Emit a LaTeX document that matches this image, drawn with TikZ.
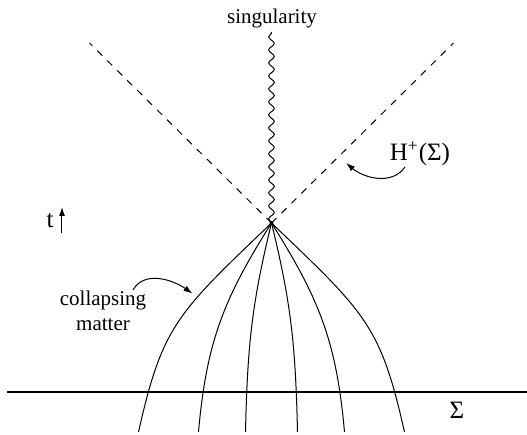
\documentclass[tikz,border=0pt]{standalone}
\usepackage{fontspec}
\setmainfont{Liberation Serif}
\usetikzlibrary{arrows.meta,decorations.pathmorphing}
\begin{document}
\begin{tikzpicture}[
  x=0.5pt, y=0.5pt,
  lbl/.style={font=\fontsize{10.5}{12.5}\selectfont, inner sep=0pt, align=center},
  biglbl/.style={font=\fontsize{12.5}{15}\selectfont, inner sep=0pt},
  worldline/.style={line width=0.5pt},
  horizon/.style={line width=0.5pt, dash pattern=on 3.5pt off 3.5pt},
  wavy/.style={line width=0.5pt, decorate, decoration={snake, amplitude=1.4pt, segment length=6.5pt}},
  pointer/.style={-{Latex[length=4.5pt,width=3pt]}, line width=0.5pt},
  slice/.style={line width=0.8pt}
]
\useasboundingbox (0,0) rectangle (527,435);
\coordinate (sing) at (271.5,212);
\coordinate (singtop) at (271.5,403);
\coordinate (hl) at (89.5,392);
\coordinate (hr) at (453.5,392);
\coordinate (sl) at (7,43);
\coordinate (sr) at (527,43);
\coordinate (m1) at (138.5,3);
\coordinate (m2) at (198.5,3);
\coordinate (m3) at (245.5,3);
\coordinate (m4) at (297.5,3);
\coordinate (m5) at (344.5,3);
\coordinate (m6) at (404.5,3);

\node[lbl] (singlabel) at (272,417) {singularity};
\node[biglbl] (hlabel) at (420,281) {H\textsuperscript{+}(Σ)};
\node[biglbl] (tlabel) at (50,214) {t};
\node[lbl] (matter) at (103,124) {collapsing\\matter};
\node[biglbl] (sigma) at (457,25) {Σ};

\coordinate (tfoot) at (62,202);
\coordinate (thead) at (62,228);
\coordinate (mstart) at (133,145);
\coordinate (mtip) at (192.5,141.5);
\coordinate (hstart) at (405,268);
\coordinate (htip) at (346,272);

\draw[slice] (sl) -- (sr);
\draw[horizon] (sing) -- (hl);
\draw[horizon] (sing) -- (hr);
\draw[wavy] (sing) -- (singtop);
\fill (sing) circle (2);

\draw[worldline] (sing) .. controls +(-94,-90) and +(24,107) .. (m1);
\draw[worldline] (sing) .. controls +(-48,-76) and +(8,90) .. (m2);
\draw[worldline] (sing) .. controls +(-19,-78) and +(2,90) .. (m3);
\draw[worldline] (sing) .. controls +(19,-78) and +(-2,90) .. (m4);
\draw[worldline] (sing) .. controls +(48,-76) and +(-8,90) .. (m5);
\draw[worldline] (sing) .. controls +(94,-90) and +(-24,107) .. (m6);

\draw[pointer] (tfoot) -- (thead);
\draw[pointer] (mstart) to[out=60, in=145] (mtip);
\draw[pointer] (hstart) to[out=-125, in=-40] (htip);
\end{tikzpicture}
\end{document}
